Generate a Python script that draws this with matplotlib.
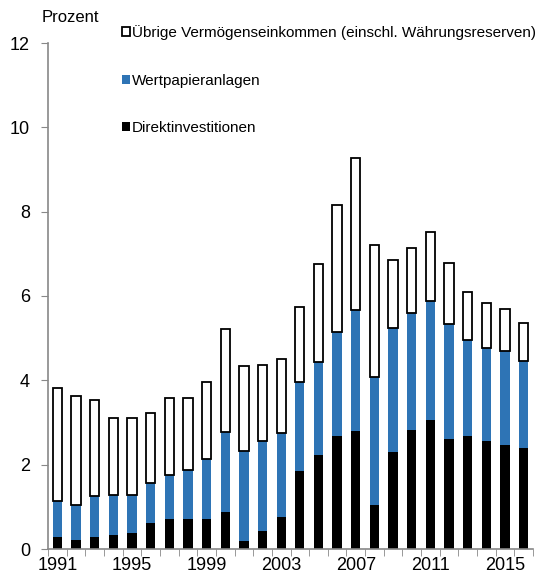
import matplotlib
matplotlib.use("Agg")
import matplotlib.pyplot as plt
import numpy as np

plt.rcParams['font.family'] = ['Liberation Sans', 'DejaVu Sans']

years = list(range(1991, 2017))
# Direktinvestitionen, Wertpapieranlagen, Übrige (stacked)
direkt = [0.29, 0.21, 0.29, 0.33, 0.39, 0.61, 0.71, 0.70, 0.71, 0.88, 0.20, 0.43, 0.76,
          1.86, 2.24, 2.69, 2.81, 1.04, 2.30, 2.82, 3.06, 2.60, 2.69, 2.55, 2.47, 2.40]
wp_top = [1.15, 1.04, 1.26, 1.28, 1.29, 1.57, 1.76, 1.88, 2.14, 2.78, 2.32, 2.56, 2.76,
          3.95, 4.44, 5.15, 5.66, 4.09, 5.23, 5.60, 5.89, 5.33, 4.95, 4.76, 4.69, 4.47]
total = [3.81, 3.64, 3.53, 3.11, 3.10, 3.23, 3.58, 3.58, 3.97, 5.22, 4.35, 4.36, 4.51,
         5.75, 6.76, 8.15, 9.27, 7.20, 6.85, 7.15, 7.51, 6.78, 6.10, 5.83, 5.68, 5.35]

wertpapier = np.array(wp_top) - np.array(direkt)
uebrige = np.array(total) - np.array(wp_top)

labels = ["Direktinvestitionen", "Wertpapieranlagen",
          "Übrige Vermögenseinkommen (einschl. Währungsreserven)"]

fig = plt.figure(figsize=(5.47, 5.85), dpi=100)
ax = fig.add_axes([48/547, 1 - 549/585, 485/547, 506/585])

x = np.arange(len(years))
w = 0.5
b1 = ax.bar(x, direkt, w, color='black', label=labels[0])
b2 = ax.bar(x, wertpapier, w, bottom=direkt, color='#2E74B5', label=labels[1])
b3 = ax.bar(x, uebrige, w, bottom=wp_top, color='white', edgecolor='black',
            linewidth=1.3, label=labels[2])

ax.set_xlim(-0.5, len(years) - 0.5)
ax.set_ylim(0, 12)
ax.set_yticks(range(0, 13, 2))
ax.set_xticks(x[::4])
ax.set_xticklabels([str(y) for y in years[::4]])
ax.set_xticks(np.arange(-0.5, len(years), 1), minor=True)
ax.tick_params(axis='x', which='major', length=0, pad=6, labelsize=13)
ax.tick_params(axis='x', which='minor', length=5, color='#888888', direction='out')
ax.tick_params(axis='y', length=5, color='#888888', labelsize=13, pad=8)

for s in ['top', 'right']:
    ax.spines[s].set_visible(False)
for s in ['left', 'bottom']:
    ax.spines[s].set_color('#888888')
    ax.spines[s].set_linewidth(1.2)

fig.text(42/547, 1 - 18/585, "Prozent", fontsize=12, va='center', ha='left')

ax.legend([b3, b2, b1], [labels[2], labels[1], labels[0]],
          loc='upper left', bbox_to_anchor=(122/547, 1 - 25/585),
          bbox_transform=fig.transFigure, frameon=False, fontsize=11,
          handlelength=0.52, handleheight=0.52, handletextpad=0.15,
          labelspacing=2.2, borderpad=0, borderaxespad=0)

fig.savefig("out.png", dpi=100)
